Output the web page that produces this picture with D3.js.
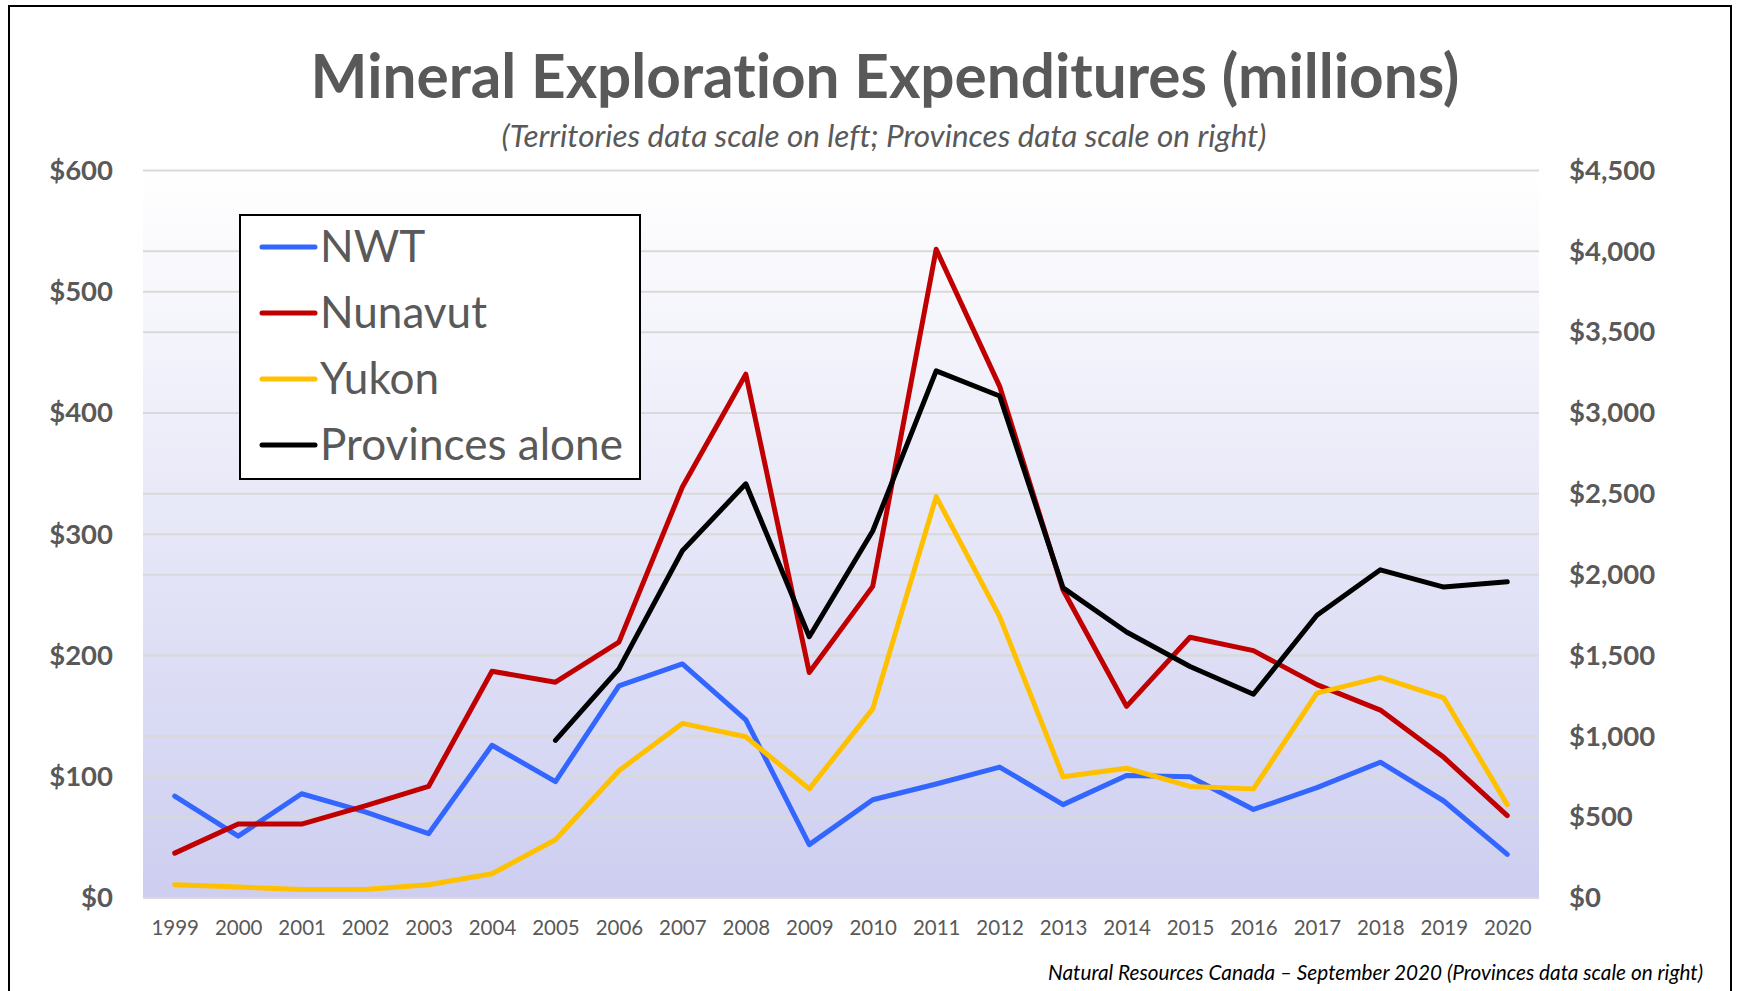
<!DOCTYPE html>
<html>
<head>
<meta charset="utf-8">
<script src="https://cdn.jsdelivr.net/npm/d3@7"></script>
<style>
  html, body { margin: 0; padding: 0; background: #fff; }
  svg { display: block; font-family: Lato, "Open Sans", sans-serif; font-variant-ligatures: none; }
</style>
</head>
<body>
<div id="app"></div>
<script>
const WIDTH = 1739;
const HEIGHT = 991;

const years = [1999, 2000, 2001, 2002, 2003, 2004, 2005, 2006, 2007, 2008, 2009,
  2010, 2011, 2012, 2013, 2014, 2015, 2016, 2017, 2018, 2019, 2020];

// territories, left scale ($ millions)
const nwt = [84, 51, 86, 71, 53, 126, 96, 175, 193, 147, 44, 81, 94, 108, 77, 101, 100, 73, 91, 112, 80, 36];
const nunavut = [37, 61, 61, 76, 92, 187, 178, 211, 339, 432, 186, 257, 535, 422, 254, 158, 215, 204, 176, 155, 116, 68];
const yukon = [11, 9, 7, 7, 11, 20, 48, 105, 144, 133, 90, 156, 331, 232, 100, 107, 92, 90, 169, 182, 165, 77];
// provinces, right scale ($ millions)
const provinces = [null, null, null, null, null, null, 975, 1417, 2148, 2562, 1616, 2270, 3261, 3105,
  1918, 1645, 1432, 1260, 1749, 2030, 1923, 1956];

const leftTicks = [0, 100, 200, 300, 400, 500, 600];
const rightTicks = [0, 500, 1000, 1500, 2000, 2500, 3000, 3500, 4000, 4500];

const seriesNames = ["NWT", "Nunavut", "Yukon", "Provinces alone"];
const seriesColors = ["#3366ff", "#c00000", "#ffc000", "#000000"];

const TITLE = "Mineral Exploration Expenditures (millions)";
const SUBTITLE = "(Territories data scale on left; Provinces data scale on right)";
const FOOTER = "Natural Resources Canada \u2013 September 2020 (Provinces data scale on right)";

const TEXT_COLOR = "#595959";
const GRID_COLOR = "#d9d9d9";
const LINE_WIDTH = 5;

const plot = { left: 143, right: 1539, top: 170.5, bottom: 898 };

const svg = d3.select("#app")
  .append("svg")
  .attr("width", WIDTH)
  .attr("height", HEIGHT)
  .attr("viewBox", `0 0 ${WIDTH} ${HEIGHT}`);

const x = d3.scalePoint().domain(years).range([plot.left, plot.right]).padding(0.5);
const yLeft = d3.scaleLinear().domain([0, 600]).range([plot.bottom, plot.top]);
const yRight = d3.scaleLinear().domain([0, 4500]).range([plot.bottom, plot.top]);

// resize a text's font so it spans a given width
function fitWidth(sel, target) {
  const node = sel.node();
  const fs = parseFloat(sel.attr("font-size"));
  const w = node.getComputedTextLength();
  if (w > 0) sel.attr("font-size", (fs * target) / w);
  return sel;
}

// chart frame
svg.append("rect")
  .attr("x", 9).attr("y", 6)
  .attr("width", 1722).attr("height", 1000)
  .attr("fill", "#fff")
  .attr("stroke", "#000")
  .attr("stroke-width", 2);

// plot area gradient
const defs = svg.append("defs");
const grad = defs.append("linearGradient")
  .attr("id", "plotFill")
  .attr("x1", 0).attr("y1", 0).attr("x2", 0).attr("y2", 1);
grad.append("stop").attr("offset", "0%").attr("stop-color", "#ffffff");
grad.append("stop").attr("offset", "100%").attr("stop-color", "#cdcef0");

svg.append("rect")
  .attr("x", plot.left).attr("y", plot.top)
  .attr("width", plot.right - plot.left)
  .attr("height", plot.bottom - plot.top)
  .attr("fill", "url(#plotFill)");

// gridlines for both scales
const grid = svg.append("g").attr("class", "grid");
grid.selectAll("line.left")
  .data(leftTicks)
  .join("line")
  .attr("class", "left")
  .attr("x1", plot.left).attr("x2", plot.right)
  .attr("y1", (d) => yLeft(d)).attr("y2", (d) => yLeft(d));
grid.selectAll("line.right")
  .data(rightTicks.filter((d) => d > 0 && d < 4500))
  .join("line")
  .attr("class", "right")
  .attr("x1", plot.left).attr("x2", plot.right)
  .attr("y1", (d) => yRight(d)).attr("y2", (d) => yRight(d));
grid.selectAll("line")
  .attr("stroke", GRID_COLOR)
  .attr("stroke-width", 2);

const money = (d) => "$" + d3.format(",")(d);

// axes
const gLeft = svg.append("g")
  .attr("transform", `translate(${plot.left},0)`)
  .call(d3.axisLeft(yLeft).tickValues(leftTicks).tickFormat(money).tickSize(0).tickPadding(30));
const gRight = svg.append("g")
  .attr("transform", `translate(${plot.right},0)`)
  .call(d3.axisRight(yRight).tickValues(rightTicks).tickFormat(money).tickSize(0).tickPadding(30));
const gBottom = svg.append("g")
  .attr("transform", `translate(0,${plot.bottom})`)
  .call(d3.axisBottom(x).tickSize(0).tickPadding(22));

[gLeft, gRight, gBottom].forEach((g) => {
  g.select(".domain").remove();
  g.attr("font-family", null);
});
gLeft.selectAll("text").attr("font-size", 27.5).attr("font-weight", 700).attr("fill", TEXT_COLOR);
gRight.selectAll("text").attr("font-size", 27.5).attr("font-weight", 700).attr("fill", TEXT_COLOR);
gBottom.selectAll("text").attr("font-size", 20.5).attr("fill", TEXT_COLOR);

// lines
const allSeries = [
  { values: nwt, y: yLeft },
  { values: nunavut, y: yLeft },
  { values: yukon, y: yLeft },
  { values: provinces, y: yRight },
];

const gLines = svg.append("g").attr("class", "lines");
allSeries.forEach((s, i) => {
  const line = d3.line()
    .defined((d) => d != null)
    .x((d, j) => x(years[j]))
    .y((d) => s.y(d));
  gLines.append("path")
    .datum(s.values)
    .attr("fill", "none")
    .attr("stroke", seriesColors[i])
    .attr("stroke-width", LINE_WIDTH)
    .attr("stroke-linejoin", "round")
    .attr("stroke-linecap", "round")
    .attr("d", line);
});

// legend
const legend = svg.append("g").attr("class", "legend");
legend.append("rect")
  .attr("x", 240).attr("y", 215)
  .attr("width", 400).attr("height", 264)
  .attr("fill", "#fff")
  .attr("stroke", "#000")
  .attr("stroke-width", 2);

const items = legend.selectAll("g.item")
  .data(seriesNames)
  .join("g")
  .attr("class", "item")
  .attr("transform", (d, i) => `translate(0,${247 + i * 66})`);

items.append("line")
  .attr("x1", 262).attr("x2", 315)
  .attr("stroke", (d, i) => seriesColors[i])
  .attr("stroke-width", LINE_WIDTH)
  .attr("stroke-linecap", "round");

const legendText = items.append("text")
  .attr("x", 320)
  .attr("y", 15)
  .attr("font-size", 40)
  .attr("fill", TEXT_COLOR)
  .text((d) => d);

// size legend font so "Provinces alone" matches the original width
{
  const last = legendText.filter((d) => d === "Provinces alone");
  fitWidth(last, 303);
  legendText.attr("font-size", last.attr("font-size"));
}

// titles
const title = svg.append("text")
  .attr("x", 885).attr("y", 98)
  .attr("text-anchor", "middle")
  .attr("font-size", 50)
  .attr("font-weight", 700)
  .attr("fill", TEXT_COLOR)
  .text(TITLE);
fitWidth(title, 1149);

const subtitle = svg.append("text")
  .attr("x", 884).attr("y", 146.5)
  .attr("text-anchor", "middle")
  .attr("font-size", 26)
  .attr("font-style", "italic")
  .attr("fill", TEXT_COLOR)
  .text(SUBTITLE);
fitWidth(subtitle, 765);

const footer = svg.append("text")
  .attr("x", 1703).attr("y", 980)
  .attr("text-anchor", "end")
  .attr("font-size", 19)
  .attr("font-style", "italic")
  .attr("fill", "#000")
  .text(FOOTER);
fitWidth(footer, 655);
</script>
</body>
</html>
